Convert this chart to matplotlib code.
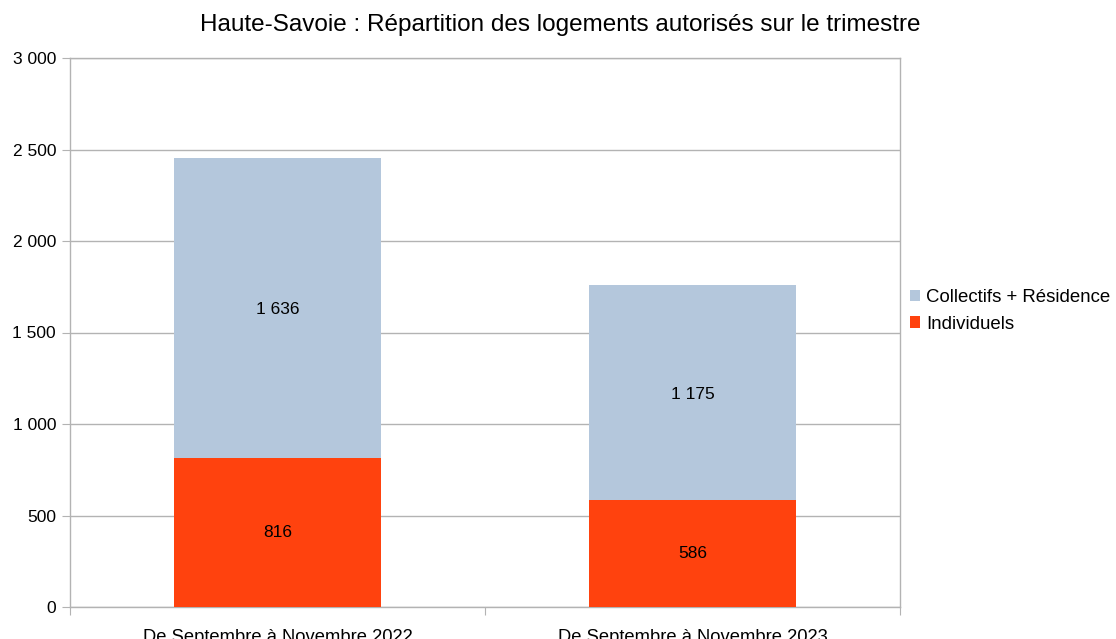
import matplotlib.pyplot as plt
from matplotlib.ticker import FuncFormatter, FixedLocator, NullFormatter

plt.rcParams['font.family'] = ['Liberation Sans', 'DejaVu Sans']

categories = ["De Septembre à Novembre 2022", "De Septembre à Novembre 2023"]
individuels = [816, 586]
collectifs = [1636, 1175]

col_ind = '#ff420e'
col_coll = '#b4c7dc'
grid_col = '#b3b3b3'

fig = plt.figure(figsize=(11.16, 6.39), dpi=100)
ax = fig.add_axes([70 / 1116, 32 / 639, 830 / 1116, 549 / 639])

x = list(range(len(categories)))
b1 = ax.bar(x, individuels, width=0.5, color=col_ind, label='Individuels', zorder=3)
b2 = ax.bar(x, collectifs, width=0.5, bottom=individuels, color=col_coll,
            label='Collectifs + Résidence', zorder=3)

def fmt(v):
    return f"{int(v):,}".replace(',', ' ')

for i in x:
    ax.text(i, individuels[i] / 2, fmt(individuels[i]),
            ha='center', va='center', fontsize=12.5, color='black', zorder=4)
    ax.text(i, individuels[i] + collectifs[i] / 2 - 10, fmt(collectifs[i]),
            ha='center', va='center', fontsize=12.5, color='black', zorder=4)

ax.set_xlim(-0.5, len(categories) - 0.5)
ax.set_ylim(0, 3000)
ax.set_yticks(range(0, 3001, 500))
ax.yaxis.set_major_formatter(FuncFormatter(lambda v, p: fmt(v)))
ax.grid(axis='y', color=grid_col, linewidth=1, zorder=0)

# category labels centred, ticks on the boundaries
ax.xaxis.set_major_locator(FixedLocator([-0.5, 0.5, 1.5]))
ax.xaxis.set_major_formatter(NullFormatter())
ax.xaxis.set_minor_locator(FixedLocator(x))
ax.set_xticklabels(categories, minor=True)
ax.tick_params(axis='x', which='minor', length=0, labelsize=13.2, pad=16)
ax.tick_params(axis='x', which='major', length=6, color=grid_col)
ax.tick_params(axis='y', length=6, color=grid_col, labelsize=12.5, pad=4)

for s in ax.spines.values():
    s.set_color(grid_col)
    s.set_linewidth(1)

fig.text(0.502, 1 - 25 / 639,
         "Haute-Savoie : Répartition des logements autorisés sur le trimestre",
         ha='center', va='center', fontsize=17.5)

handles = [b2, b1]
fig.legend(handles, [h.get_label() for h in handles], loc='center left',
           bbox_to_anchor=(910 / 1116, 1 - 311 / 639), frameon=False, fontsize=13.4,
           borderpad=0, borderaxespad=0,
           handlelength=0.55, handleheight=0.55, handletextpad=0.3, labelspacing=0.5)

fig.savefig('out.png', dpi=100)
